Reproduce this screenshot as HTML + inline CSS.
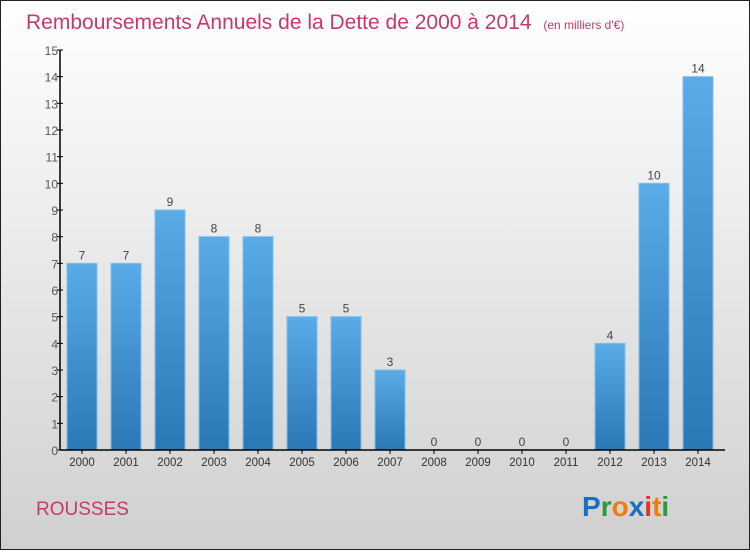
<!DOCTYPE html>
<html><head><meta charset="utf-8"><style>
html,body{margin:0;padding:0}
body{width:750px;height:550px;overflow:hidden;font-family:"Liberation Sans",sans-serif}
</style></head><body>
<svg id="chart" width="750" height="550" xmlns="http://www.w3.org/2000/svg">
<defs>
<linearGradient id="bg" x1="0" y1="0" x2="0" y2="1"><stop offset="0" stop-color="#ffffff"/><stop offset="1" stop-color="#d0d0d0"/></linearGradient>
<linearGradient id="bar" x1="0" y1="0" x2="0" y2="1"><stop offset="0" stop-color="#5aabe6"/><stop offset="1" stop-color="#2a78b4"/></linearGradient>
</defs>
<rect x="0.5" y="0.5" width="749" height="549" fill="url(#bg)" stroke="#222" stroke-width="1"/>
<text x="26" y="29" font-size="21" fill="#c8386a">Remboursements Annuels de la Dette de 2000 à 2014 <tspan font-size="12" dx="6">(en milliers d'€)</tspan></text>
<g id="plot"></g>
<text x="36" y="515" font-size="19" fill="#c8386a">ROUSSES</text>
<g font-size="28" font-weight="bold" font-family="'Liberation Sans',sans-serif">
<text x="582" y="516"><tspan fill="#1a6fc4">P</tspan><tspan fill="#2a9a3a">r</tspan><tspan fill="#f07c10">o</tspan><tspan fill="#1a6fc4">x</tspan><tspan fill="#e8321e">i</tspan><tspan fill="#f07c10">t</tspan><tspan fill="#2a9a3a">i</tspan></text>
</g>
</svg>
<script>
const years=["2000","2001","2002","2003","2004","2005","2006","2007","2008","2009","2010","2011","2012","2013","2014"];
const values=[7,7,9,8,8,5,5,3,0,0,0,0,4,10,14];
const yTicks=[0,1,2,3,4,5,6,7,8,9,10,11,12,13,14,15];
const NS="http://www.w3.org/2000/svg";
const g=document.getElementById('plot');
const x0=60,y0=450,yTop=50,yMax=15,step=44,bw=30;
const yS=v=>y0-(v/yMax)*(y0-yTop);
const xC=i=>82+i*step;
function mk(t,a){const e=document.createElementNS(NS,t);for(const k in a)e.setAttribute(k,a[k]);g.appendChild(e);return e;}
years.forEach((yr,i)=>{
  const v=values[i];
  if(v>0){const r=mk('rect',{x:xC(i)-bw/2,y:yS(v),width:bw,height:y0-yS(v),fill:'url(#bar)',stroke:'#7cc0ee','stroke-width':1});
  
  }
  const l=mk('text',{x:xC(i),y:yS(v)-4,'text-anchor':'middle','font-size':12,fill:'#444'});l.textContent=v;
  
  
  const t=mk('text',{x:xC(i),y:466,'text-anchor':'middle','font-size':11.5,fill:'#333'});t.textContent=yr;
  
  
  mk('line',{x1:xC(i),x2:xC(i),y1:y0,y2:y0+4,stroke:'#000'});
});
yTicks.forEach(v=>{
  mk('line',{x1:x0-3,x2:x0+3,y1:yS(v),y2:yS(v),stroke:'#000'});
  const t=mk('text',{x:x0-2,y:yS(v)+5,'text-anchor':'end','font-size':12,fill:'#555'});t.textContent=v;
  
  
});
const ya=mk('line',{x1:x0,x2:x0,y1:yTop,y2:y0,stroke:'#000','stroke-width':1.5});


const xa=mk('line',{x1:x0,x2:725,y1:y0,y2:y0,stroke:'#000','stroke-width':1.5});


</script>
</body></html>
